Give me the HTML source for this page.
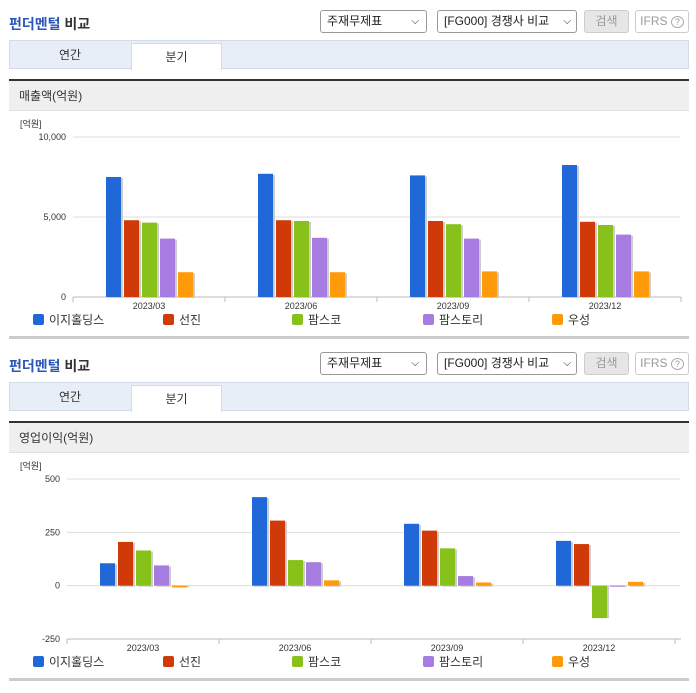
<!DOCTYPE html>
<html><head><meta charset="utf-8">
<style>
body{margin:0;width:696px;height:684px;background:#fff;position:relative;overflow:hidden;font-family:"Liberation Sans","Noto Sans CJK KR",sans-serif;}
.abs{position:absolute;}
.title{font-size:14px;font-weight:bold;color:#333;}
.title span{color:#2a56b8;}
.sel{border:1px solid #999;border-radius:3px;background:#fff;font-size:12px;color:#222;box-sizing:border-box;height:23px;line-height:21px;padding-left:6px;}
.btn{border:1px solid #ccc;border-radius:3px;box-sizing:border-box;height:23px;line-height:21px;font-size:12px;text-align:center;}
.tabbar{background:#e8eef7;border:1px solid #d3dbe8;box-sizing:border-box;}
.tab{font-size:12px;text-align:center;color:#333;}
.dark{background:#333;height:2px;}
.ghead{background:#efefef;font-size:12px;color:#333;padding-left:10px;box-sizing:border-box;border-bottom:1px solid #e0e0e0;}
.bline{background:#ccc;height:3px;}
</style></head><body>
<div id="root"></div>
<script>
const categories=["2023/03","2023/06","2023/09","2023/12"];
const seriesNames=["이지홀딩스","선진","팜스코","팜스토리","우성"];
const colors=["#2067d8","#d03a08","#89c11b","#a77ce0","#ff9a0a"];
const sales_izi=[7500,7700,7600,8250];
const sales_sunjin=[4800,4800,4750,4700];
const sales_famsco=[4650,4750,4550,4500];
const sales_famstory=[3650,3700,3650,3900];
const sales_woosung=[1550,1550,1600,1600];
const op_izi=[105,415,290,210];
const op_sunjin=[205,305,258,195];
const op_famsco=[165,120,175,-152];
const op_famstory=[95,110,45,-4];
const op_woosung=[-8,25,15,18];
const salesTicks=[0,5000,10000];
const salesTickLabels=["0","5,000","10,000"];
const opTicks=[-250,0,250,500];
const opTickLabels=["-250","0","250","500"];

const root=document.getElementById('root');
function div(cls,x,y,w,h,html,name,inter){
  const d=document.createElement('div');
  d.className='abs '+cls;
  d.style.left=x+'px';d.style.top=y+'px';
  if(w!=null)d.style.width=w+'px';
  if(h!=null)d.style.height=h+'px';
  if(html!=null)d.innerHTML=html;
  
  
  root.appendChild(d);return d;
}
const NS="http://www.w3.org/2000/svg";
function svgEl(tag,attrs,parent){const e=document.createElementNS(NS,tag);for(const k in attrs)e.setAttribute(k,attrs[k]);parent.appendChild(e);return e;}

function section(y0,headTitle,sdata,ticks,tickLabels,yTop,yBot,vMin,vMax,plotX0,prefix){
  div('title',9,y0+4,200,20,'<span>펀더멘털</span> 비교',prefix+'-section-title',false);
  div('sel',320,y0,107,23,'주재무제표<span style="position:absolute;right:7px;font-size:10px">⌵</span>',prefix+'-statement-select',true);
  div('sel',437,y0,140,23,'[FG000] 경쟁사 비교<span style="position:absolute;right:5px;font-size:10px">⌵</span>',prefix+'-peer-select',true);
  const b=div('btn',584,y0,45,23,'검색',prefix+'-search-button',true);b.style.background='#e6e6e6';b.style.color='#999';
  const f=div('btn',635,y0,54,23,'',prefix+'-ifrs-button',true);f.style.color='#999';f.innerHTML='IFRS <span style="border:1px solid #aaa;border-radius:50%;font-size:9px;padding:0 3px">?</span>';
  div('tabbar',9,y0+30,680,29,null,prefix+'-tab-bar',false);
  div('tab',9,y0+36,122,18,'연간',prefix+'-annual-tab',true);
  const t=div('tab',131,y0+33,91,27,'분기',prefix+'-quarter-tab',true);t.style.background='#fff';t.style.border='1px solid #d3dbe8';t.style.borderBottom='none';t.style.lineHeight='26px';t.style.boxSizing='border-box';
  div('dark',9,y0+69,680,2,null,prefix+'-divider',false);
  const g=div('ghead',9,y0+71,680,30,headTitle,prefix+'-chart-header',false);g.style.lineHeight='30px';
  const svg=document.createElementNS(NS,'svg');
  svg.setAttribute('width',696);svg.setAttribute('height',240);
  svg.style.position='absolute';svg.style.left='0';svg.style.top=(y0+101)+'px';
  
  root.appendChild(svg);
  const off=y0+101;
  const yS=v=>yTop-off+(vMax-v)/(vMax-vMin)*(yBot-yTop);
  const gw=152;
  const xC=i=>plotX0+gw*i+gw/2;
  const u=svgEl('text',{x:20,y:yTop-off-10,'font-size':9,fill:'#333'},svg);u.textContent='[억원]';
  
  ticks.forEach((tv,i)=>{
    const ln=svgEl('line',{x1:plotX0,x2:680,y1:yS(tv),y2:yS(tv),stroke:'#ddd','stroke-width':1},svg);
    
    const tx=svgEl('text',{x:plotX0-7,y:yS(tv)+3,'font-size':9,fill:'#333','text-anchor':'end'},svg);tx.textContent=tickLabels[i];
    
  });
  const base=yS(vMin);
  const ax=svgEl('line',{x1:plotX0,x2:681,y1:base,y2:base,stroke:'#bbb'},svg);
  
  for(let i=0;i<=4;i++){const tk=svgEl('line',{x1:plotX0+gw*i,x2:plotX0+gw*i,y1:base,y2:base+5,stroke:'#bbb'},svg);
    }
  categories.forEach((c,i)=>{
    const tx=svgEl('text',{x:xC(i),y:base+12,'font-size':9,fill:'#333','text-anchor':'middle'},svg);tx.textContent=c;
    
    sdata.forEach((arr,s)=>{
      const v=arr[i];const x=xC(i)-43+s*18;
      const y1=Math.min(yS(v),yS(0)),h=Math.max(1,Math.abs(yS(v)-yS(0)));
      const sh=svgEl('rect',{x:x+2,y:y1+(v>=0?1:0),width:15,height:h,fill:'#ccc'},svg);
      
      const r=svgEl('rect',{x:x,y:y1,width:15,height:h,fill:colors[s]},svg);
      
    });
  });
  const lx=[33,163,292,423,552];
  const ly=base+26;
  seriesNames.forEach((n,s)=>{
    const r=svgEl('rect',{x:lx[s],y:ly-9,width:11,height:11,rx:2,fill:colors[s]},svg);
    
    const tx=svgEl('text',{x:lx[s]+16,y:ly+1,'font-size':12,fill:'#333'},svg);tx.textContent=n;
    
  });
  div('bline',9,off+base+39,680,3,null,prefix+'-bottom-line',false);
}
section(10,'매출액(억원)',[sales_izi,sales_sunjin,sales_famsco,sales_famstory,sales_woosung],salesTicks,salesTickLabels,137,297,0,10000,73,'sales');
section(352,'영업이익(억원)',[op_izi,op_sunjin,op_famsco,op_famstory,op_woosung],opTicks,opTickLabels,479,639,-250,500,67,'op');
</script>
</body></html>
